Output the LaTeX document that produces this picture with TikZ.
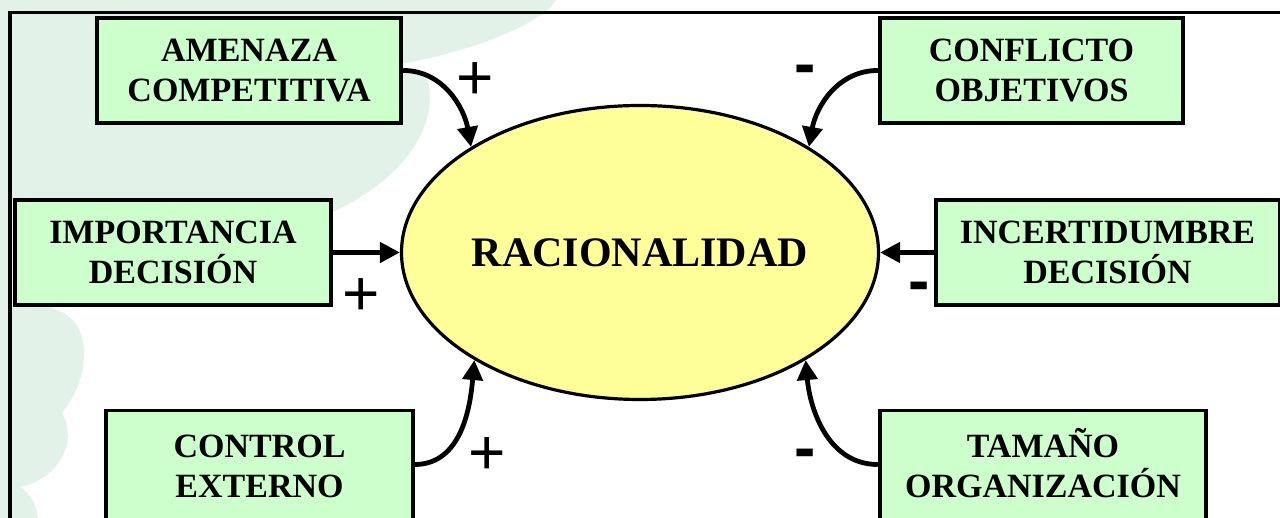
\documentclass[tikz,border=0pt]{standalone}
\usepackage{fontspec}
\setmainfont{Liberation Serif}
\newfontfamily\signfont{Liberation Sans}
\usetikzlibrary{shapes.geometric,arrows.meta}
\definecolor{boxgreen}{RGB}{204,255,204}
\definecolor{ellyellow}{RGB}{255,255,153}
\definecolor{wmgreen}{RGB}{226,242,233}
\begin{document}
\begin{tikzpicture}[x=0.5pt,y=0.5pt,
  factor/.style={draw=black, line width=1.9pt, fill=boxgreen, rectangle, inner sep=0pt,
    minimum height=52.6pt, align=center, font=\fontsize{17}{20.2}\selectfont\bfseries},
  core/.style={ellipse, draw=black, line width=1.6pt, fill=ellyellow, inner sep=0pt,
    minimum width=238.5pt, minimum height=147pt, font=\fontsize{21}{25}\selectfont\bfseries},
  link/.style={line width=2.4pt, -{Triangle[length=10pt,width=10pt]}},
  plussign/.style={inner sep=0pt, font=\signfont\fontsize{32}{36}\selectfont},
  minussign/.style={inner sep=0pt, font=\signfont\bfseries\fontsize{32}{36}\selectfont},
  frameline/.style={line width=1.6pt, draw=black}]
\useasboundingbox (0,0) rectangle (1280,518);
\clip (0,0) rectangle (1280,518);
% watermark
\fill[wmgreen] (0,518) -- (556,518) .. controls (540,493) and (470,466) .. (400,454) -- (0,454) -- cycle;
\fill[wmgreen] (0,458) -- (400,458) -- (400,449) .. controls (420,451) and (430,443) .. (430,423)
  .. controls (430,368) and (380,328) .. (333,306) -- (300,290) -- (100,215) -- (50,210)
  .. controls (75,205) and (85,185) .. (84,161) .. controls (83,135) and (70,115) .. (62,105)
  .. controls (68,95) and (70,80) .. (65,68) .. controls (58,48) and (40,35) .. (20,31)
  .. controls (30,25) and (37,12) .. (38,0) -- (0,0) -- cycle;
% frame
\draw[frameline] (10,-5) -- (10,505.5) -- (1290,505.5);
% nodes
\node[core] (rac) at (640,265.5) {RACIONALIDAD};
\node[factor, minimum width=152.3pt] (amen) at (249,447.5) {AMENAZA\\COMPETITIVA};
\node[factor, minimum width=151.8pt] (conf) at (1031.5,447.5) {CONFLICTO\\OBJETIVOS};
\node[factor, minimum width=158.3pt] (impo) at (173,265.5) {IMPORTANCIA\\DECISIÓN};
\node[factor, minimum width=171.9pt] (ince) at (1107.5,265.5) {INCERTIDUMBRE\\DECISIÓN};
\node[factor, minimum width=153.3pt, minimum height=56pt] (ctrl) at (259.5,51.5) {CONTROL\\EXTERNO};
\node[factor, minimum width=163.3pt, minimum height=56pt] (tama) at (1043,51.5) {TAMA\smash{Ñ}O\\ORGANIZACIÓN};
% connectors
\draw[link] (amen.east) to[out=0,in=100] (rac.148);
\draw[link] (conf.west) to[out=180,in=80] (rac.32);
\draw[link] (impo.east) -- (rac.west);
\draw[link] (ince.west) -- (rac.east);
\draw[link] (ctrl.east |- 0,53.5) to[out=0,in=-95] (rac.213);
\draw[link] (tama.west |- 0,53.5) to[out=180,in=-85] (rac.-33);
% signs
\node[plussign] (pA) at (475,437.4) {+};
\node[minussign] (mC) at (805,443) {-};
\node[plussign] (pI) at (361,221.4) {+};
\node[minussign] (mI) at (919,226) {-};
\node[plussign] (pC) at (487,62.4) {+};
\node[minussign] (mT) at (805,59) {-};
\end{tikzpicture}
\end{document}
